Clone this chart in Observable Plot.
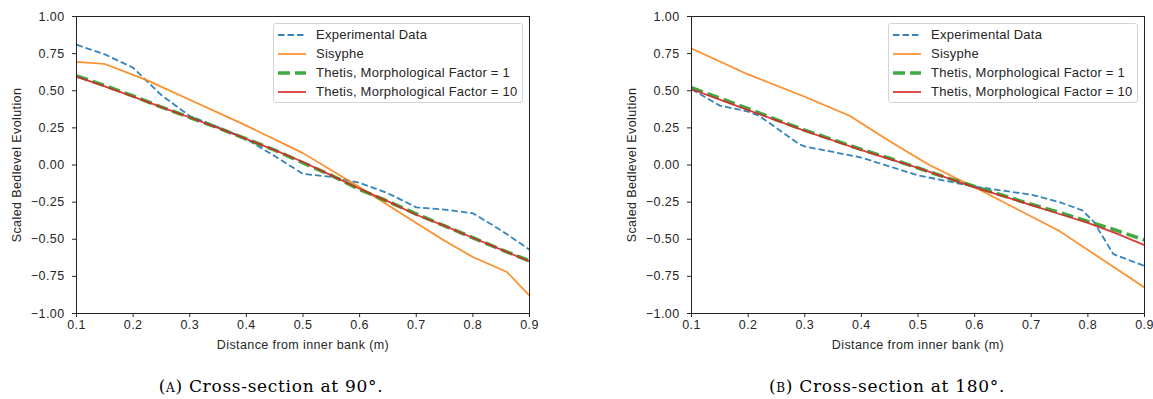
<!DOCTYPE html>
<html><head><meta charset="utf-8">
<script src="https://cdn.jsdelivr.net/npm/d3@7"></script>
<script src="https://cdn.jsdelivr.net/npm/@observablehq/plot@0.6"></script>
<style>
body{margin:0;background:#fff;}
#root{position:relative;width:1153px;height:399px;overflow:hidden;background:#fff;font-family:"Liberation Sans",Arial,sans-serif;}
.panel{position:absolute;top:0;width:576px;height:399px;}
.panel svg{position:absolute;left:0;top:0;}
.legend{position:absolute;left:273px;top:23px;width:248px;height:78px;border:1px solid #d4d4d4;border-radius:3px;background:rgba(255,255,255,0.85);}
.row{position:absolute;left:0;height:19px;width:248px;}
.row svg{position:absolute;left:3px;top:0;}
.row span{position:absolute;left:42px;top:1px;font-size:13px;letter-spacing:0.25px;color:#262626;white-space:nowrap;line-height:17px;}
.caption{position:absolute;top:376px;font-family:"DejaVu Serif","Liberation Serif",serif;font-size:17px;letter-spacing:0.7px;color:#000;transform:translateX(-50%);white-space:nowrap;}
</style></head>
<body><div id="root"></div>
<script>
// ---- data ----
const seriesNames = ["Experimental Data", "Sisyphe", "Thetis, Morphological Factor = 1", "Thetis, Morphological Factor = 10"];
const seriesColors = ["#1f77b4", "#ff7f0e", "#2ca02c", "#d62728"];
const xTicks = [0.1, 0.2, 0.3, 0.4, 0.5, 0.6, 0.7, 0.8, 0.9];
const yTicks = [-1.0, -0.75, -0.5, -0.25, 0.0, 0.25, 0.5, 0.75, 1.0];
const xLabel = "Distance from inner bank (m)";
const yLabel = "Scaled Bedlevel Evolution";
const captions = ["Cross-section at 90°.", "Cross-section at 180°."];
const captionLetters = ["a", "b"];

const thetisX = [0.1, 0.15, 0.2, 0.25, 0.3, 0.35, 0.4, 0.45, 0.5, 0.55, 0.6, 0.65, 0.7, 0.75, 0.8, 0.85, 0.9];

// Panel A (90°)
const expA_x = [0.1, 0.15, 0.2, 0.25, 0.3, 0.35, 0.4, 0.45, 0.5, 0.55, 0.6, 0.65, 0.7, 0.75, 0.8, 0.85, 0.9];
const expA_y = [0.81, 0.745, 0.655, 0.47, 0.33, 0.255, 0.175, 0.06, -0.06, -0.08, -0.12, -0.19, -0.285, -0.30, -0.325, -0.44, -0.57];
const sisA_x = [0.1, 0.15, 0.225, 0.3, 0.4, 0.5, 0.6, 0.7, 0.75, 0.8, 0.83, 0.86, 0.9];
const sisA_y = [0.695, 0.68, 0.57, 0.44, 0.265, 0.08, -0.15, -0.39, -0.51, -0.62, -0.67, -0.72, -0.88];
const th1A_y = [0.60, 0.535, 0.465, 0.39, 0.32, 0.25, 0.175, 0.10, 0.015, -0.07, -0.165, -0.245, -0.33, -0.41, -0.49, -0.57, -0.645];
const th10A_y = [0.595, 0.53, 0.46, 0.39, 0.32, 0.25, 0.175, 0.10, 0.02, -0.07, -0.16, -0.245, -0.335, -0.41, -0.49, -0.57, -0.65];

// Panel B (180°)
const expB_x = [0.1, 0.15, 0.2, 0.22, 0.29, 0.3, 0.4, 0.5, 0.6, 0.7, 0.75, 0.79, 0.81, 0.845, 0.9];
const expB_y = [0.51, 0.40, 0.36, 0.33, 0.14, 0.125, 0.05, -0.07, -0.145, -0.20, -0.25, -0.305, -0.38, -0.60, -0.68];
const sisB_x = [0.1, 0.2, 0.3, 0.38, 0.45, 0.52, 0.6, 0.75, 0.9];
const sisB_y = [0.785, 0.61, 0.46, 0.33, 0.16, 0.0, -0.15, -0.445, -0.825];
const th1B_y = [0.52, 0.45, 0.38, 0.305, 0.235, 0.17, 0.105, 0.045, -0.02, -0.085, -0.145, -0.205, -0.265, -0.32, -0.38, -0.44, -0.505];
const th10B_y = [0.51, 0.44, 0.37, 0.30, 0.23, 0.165, 0.10, 0.04, -0.02, -0.085, -0.15, -0.21, -0.27, -0.33, -0.39, -0.46, -0.54];

// ---- styles per series ----
const styles = [
  {strokeWidth: 1.8, dash: "6.5,3"},
  {strokeWidth: 1.7, dash: null},
  {strokeWidth: 3.6, dash: "12,5"},
  {strokeWidth: 1.8, dash: null}
];

function rows(xs, ys) { return xs.map((x, i) => ({x, y: ys[i]})); }

function makePanel(seriesData) {
  const lineMarks = seriesData.map((d, i) => Plot.line(d, {
    x: "x", y: "y", stroke: seriesColors[i], strokeWidth: styles[i].strokeWidth,
    strokeDasharray: styles[i].dash || undefined, strokeLinejoin: "round", strokeLinecap: "butt", strokeOpacity: 0.9
  }));
  return Plot.plot({
    width: 576, height: 353,
    marginLeft: 76, marginRight: 47, marginTop: 16, marginBottom: 40,
    style: {fontFamily: "'Liberation Sans', Arial, sans-serif", fontSize: "12.5px", letterSpacing: "0.4px", color: "#262626", background: "transparent", overflow: "visible"},
    x: {domain: [0.1, 0.9]},
    y: {domain: [-1, 1]},
    marks: [
      ...lineMarks,
      Plot.frame({stroke: "#222", strokeWidth: 1}),
      Plot.axisX({ticks: xTicks, tickFormat: d3.format(".1f"), tickSize: 4, tickPadding: 3,
        label: xLabel, labelAnchor: "center", labelOffset: 35, labelArrow: "none"}),
      Plot.axisY({ticks: yTicks, tickFormat: d3.format(".2f"), tickSize: 4, tickPadding: 8,
        label: yLabel, labelAnchor: "center", labelOffset: 64, labelArrow: "none"})
    ]
  });
}

function makeLegend() {
  const lg = document.createElement("div");
  lg.className = "legend";
  seriesNames.forEach((name, i) => {
    const r = document.createElement("div");
    r.className = "row";
    r.style.top = (1 + i * 19) + "px";
    const dash = styles[i].dash ? `stroke-dasharray="${styles[i].dash}"` : "";
    r.innerHTML = `<svg width="30" height="19"><line x1="1" y1="10" x2="29" y2="10" stroke="${seriesColors[i]}" stroke-width="${styles[i].strokeWidth}" ${dash} stroke-opacity="0.9"/></svg><span>${name}</span>`;
    lg.appendChild(r);
  });
  return lg;
}

const root = document.getElementById("root");
const panels = [
  {left: 0, cap: 271, data: [rows(expA_x, expA_y), rows(sisA_x, sisA_y), rows(thetisX, th1A_y), rows(thetisX, th10A_y)]},
  {left: 615, cap: 887, data: [rows(expB_x, expB_y), rows(sisB_x, sisB_y), rows(thetisX, th1B_y), rows(thetisX, th10B_y)]}
];
panels.forEach((p, k) => {
  const wrap = document.createElement("div");
  wrap.className = "panel";
  wrap.style.left = p.left + "px";
  wrap.appendChild(makePanel(p.data));
  wrap.appendChild(makeLegend());
  root.appendChild(wrap);
  const cap = document.createElement("div");
  cap.className = "caption";
  cap.style.left = p.cap + "px";
  cap.innerHTML = `(<span style="font-variant:small-caps">${captionLetters[k]}</span>) ${captions[k]}`;
  root.appendChild(cap);
});
</script>
</body></html>
